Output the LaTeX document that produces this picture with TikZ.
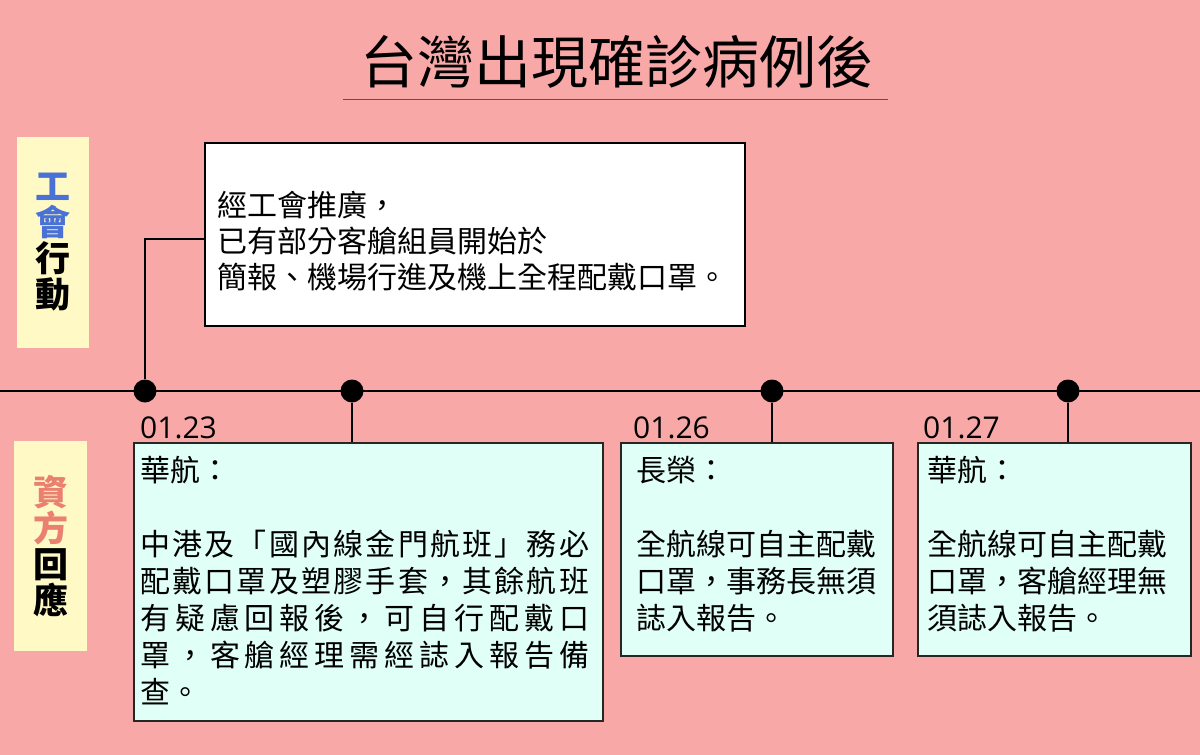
\documentclass[tikz,border=0pt]{standalone}
\usepackage{fontspec}
\setmainfont{Noto Sans CJK TC}
\newfontfamily\latinfont{Open Sans}
\definecolor{bg}{HTML}{F9A8A8}
\definecolor{cardcyan}{HTML}{E0FFF6}
\definecolor{labyellow}{HTML}{FFF9C6}
\definecolor{labblue}{HTML}{4A72D6}
\definecolor{labsalmon}{HTML}{E98070}
\definecolor{ulcolor}{HTML}{6E4B4B}
\makeatletter
\newcommand\spreadtext[2]{\makebox[#1][s]{\@tfor\spr@c:=#2\do{\spr@c\hfil}\unskip}}
\makeatother
\tikzset{
  titlestyle/.style={inner sep=0pt, font=\fontsize{57}{60}\selectfont},
  labelbox/.style={fill=labyellow, inner sep=0pt, align=center,
    font=\fontsize{35}{36}\selectfont\bfseries},
  notebox/.style={draw=black, line width=1.4pt, fill=white, inner sep=0pt},
  card/.style={draw=black!85, line width=1.4pt, fill=cardcyan, inner sep=0pt},
  txt/.style={anchor=base west, inner sep=0pt, font=\fontsize{30}{37}\selectfont},
  datestyle/.style={anchor=base west, inner sep=0pt, font=\latinfont\fontsize{30}{32}\selectfont},
  dot/.style={circle, fill=black, minimum size=23pt, inner sep=0pt},
  conn/.style={draw=black, line width=2pt},
  tline/.style={draw=black, line width=2.5pt}
}
\begin{document}
\begin{tikzpicture}[x=1pt,y=-1pt]
\fill[bg] (0,0) rectangle (1200,755);
\useasboundingbox (0,0) rectangle (1200,755);

% title
\node[titlestyle] (title) at (617,62) {台灣出現確診病例後};
\draw[ulcolor, line width=1pt] (343,99) -- (888,99);

% side labels
\node[labelbox, minimum width=72pt, minimum height=211pt] (lab1) at (53,242.5)
  {\textcolor{labblue}{工}\\\textcolor{labblue}{會}\\行\\動};
\node[labelbox, minimum width=73pt, minimum height=210pt] (lab2) at (50.5,546)
  {\textcolor{labsalmon}{資}\\\textcolor{labsalmon}{方}\\回\\應};

% top note
\node[notebox, minimum width=540pt, minimum height=183pt] (top) at (475,234.5) {};
\node[txt] (toptxt) at (217,216.5) {\parbox[t]{520pt}{\fontsize{30}{36}\selectfont
經工會推廣，\\已有部分客艙組員開始於\\簡報、機場行進及機上全程配戴口罩。}};

% timeline
\coordinate (tl0) at (0,391);
\coordinate (tl1) at (1200,391);
\draw[tline] (tl0) -- (tl1);

% cards
\node[card, minimum width=469pt, minimum height=278pt] (c1) at (368.5,582) {};
\node[card, minimum width=272pt, minimum height=213pt] (c2) at (757,549.5) {};
\node[card, minimum width=273pt, minimum height=213pt] (c3) at (1054.5,549.5) {};

% dots
\node[dot] (d1) at (145,391) {};
\node[dot] (d2) at (352,391) {};
\node[dot] (d3) at (772,391) {};
\node[dot] (d4) at (1068,391) {};

% connectors
\draw[conn] (d1.north) |- ([yshift=-4pt]top.west);
\draw[conn] (d2.south) -- (d2.south |- c1.north);
\draw[conn] (d3.south) -- (d3.south |- c2.north);
\draw[conn] (d4.south) -- (d4.south |- c3.north);

% dates
\node[datestyle] (dt1) at (140,438) {01.23};
\node[datestyle] (dt2) at (633,438) {01.26};
\node[datestyle] (dt3) at (923,438) {01.27};

% card texts
\node[txt] (c1txt) at (140,481) {\parbox[t]{460pt}{\fontsize{30}{37}\selectfont
華航：\\[37pt]
\spreadtext{449pt}{中港及「國內線金門航班」務必}\\
\spreadtext{449pt}{配戴口罩及塑膠手套，其餘航班}\\
\spreadtext{449pt}{有疑慮回報後，可自行配戴口}\\
\spreadtext{449pt}{罩，客艙經理需經誌入報告備}\\
查。}};
\node[txt] (c2txt) at (636,481) {\parbox[t]{255pt}{\fontsize{30}{37}\selectfont
長榮：\\[37pt]
全航線可自主配戴\\
口罩，事務長無須\\
誌入報告。}};
\node[txt] (c3txt) at (927,481) {\parbox[t]{255pt}{\fontsize{30}{37}\selectfont
華航：\\[37pt]
全航線可自主配戴\\
口罩，客艙經理無\\
須誌入報告。}};
\end{tikzpicture}
\end{document}
